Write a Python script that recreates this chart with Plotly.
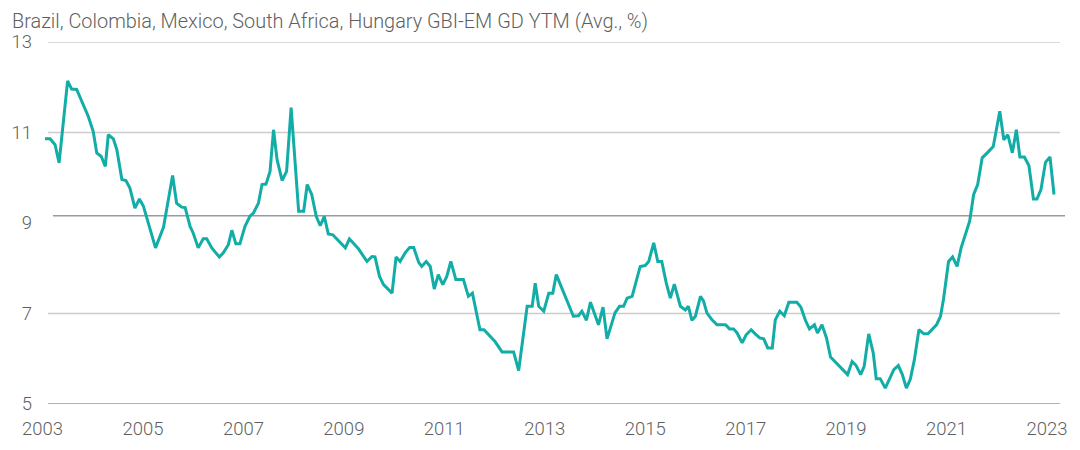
import plotly.graph_objects as go

# Decimal-year positions of the observations and GBI-EM GD YTM values (%)
years = [
    2003.05, 2003.15, 2003.25, 2003.33, 2003.50, 2003.58, 2003.68, 2003.91, 2004.01, 2004.08,
    2004.17, 2004.25, 2004.31, 2004.41, 2004.48, 2004.58, 2004.66, 2004.74, 2004.84, 2004.93,
    2005.01, 2005.25, 2005.41, 2005.59, 2005.67, 2005.77, 2005.84, 2005.94, 2006.00, 2006.10,
    2006.20, 2006.27, 2006.37, 2006.52, 2006.60, 2006.70, 2006.77, 2006.85, 2006.93, 2007.03,
    2007.13, 2007.20, 2007.30, 2007.37, 2007.45, 2007.53, 2007.60, 2007.67, 2007.77, 2007.86,
    2007.95, 2008.10, 2008.20, 2008.27, 2008.36, 2008.45, 2008.53, 2008.61, 2008.69, 2008.78,
    2009.03, 2009.11, 2009.29, 2009.46, 2009.56, 2009.62, 2009.71, 2009.79, 2009.96, 2010.04,
    2010.12, 2010.22, 2010.31, 2010.39, 2010.49, 2010.55, 2010.64, 2010.72, 2010.80, 2010.88,
    2010.97, 2011.05, 2011.13, 2011.23, 2011.38, 2011.48, 2011.56, 2011.65, 2011.71, 2011.79,
    2012.01, 2012.15, 2012.38, 2012.48, 2012.65, 2012.75, 2012.81, 2012.88, 2012.98, 2013.08,
    2013.16, 2013.23, 2013.31, 2013.41, 2013.57, 2013.67, 2013.74, 2013.83, 2013.91, 2014.07,
    2014.16, 2014.24, 2014.40, 2014.49, 2014.57, 2014.64, 2014.74, 2014.90, 2015.00, 2015.07,
    2015.17, 2015.25, 2015.33, 2015.42, 2015.50, 2015.58, 2015.70, 2015.80, 2015.86, 2015.93,
    2016.00, 2016.10, 2016.16, 2016.23, 2016.33, 2016.43, 2016.60, 2016.68, 2016.76, 2016.83,
    2016.93, 2017.01, 2017.11, 2017.19, 2017.28, 2017.36, 2017.44, 2017.53, 2017.59, 2017.68,
    2017.77, 2017.86, 2018.02, 2018.10, 2018.19, 2018.27, 2018.37, 2018.43, 2018.52, 2018.61,
    2018.69, 2019.03, 2019.12, 2019.20, 2019.29, 2019.36, 2019.45, 2019.54, 2019.60, 2019.68,
    2019.78, 2019.95, 2020.04, 2020.12, 2020.20, 2020.28, 2020.36, 2020.45, 2020.55, 2020.63,
    2020.80, 2020.88, 2020.94, 2021.04, 2021.12, 2021.21, 2021.29, 2021.46, 2021.54, 2021.62,
    2021.71, 2021.81, 2021.93, 2022.06, 2022.14, 2022.22, 2022.31, 2022.39, 2022.46, 2022.55,
    2022.64, 2022.73, 2022.80, 2022.88, 2022.97, 2023.06, 2023.14,
]
ytm = [
    10.86, 10.86, 10.73, 10.33, 12.14, 11.96, 11.95, 11.36, 11.02, 10.55,
    10.47, 10.25, 10.95, 10.86, 10.62, 9.96, 9.94, 9.77, 9.33, 9.53,
    9.37, 8.45, 8.91, 10.05, 9.44, 9.35, 9.34, 8.92, 8.78, 8.45,
    8.65, 8.65, 8.45, 8.25, 8.34, 8.52, 8.84, 8.54, 8.54, 8.92,
    9.15, 9.22, 9.44, 9.85, 9.86, 10.14, 11.06, 10.40, 9.94, 10.14,
    11.55, 9.26, 9.26, 9.85, 9.63, 9.15, 8.94, 9.15, 8.76, 8.74,
    8.45, 8.65, 8.43, 8.15, 8.26, 8.25, 7.82, 7.64, 7.45, 8.25,
    8.15, 8.34, 8.46, 8.46, 8.13, 8.04, 8.15, 8.04, 7.54, 7.86,
    7.64, 7.82, 8.15, 7.75, 7.75, 7.38, 7.45, 6.94, 6.64, 6.64,
    6.38, 6.15, 6.15, 5.74, 7.16, 7.16, 7.67, 7.16, 7.05, 7.45,
    7.45, 7.86, 7.64, 7.38, 6.94, 6.95, 7.05, 6.85, 7.25, 6.75,
    7.14, 6.44, 7.02, 7.16, 7.16, 7.34, 7.38, 8.04, 8.06, 8.15,
    8.56, 8.15, 8.15, 7.67, 7.34, 7.65, 7.16, 7.08, 7.16, 6.85,
    6.94, 7.38, 7.28, 7.01, 6.86, 6.75, 6.75, 6.66, 6.66, 6.57,
    6.35, 6.53, 6.64, 6.55, 6.46, 6.44, 6.24, 6.24, 6.86, 7.05,
    6.95, 7.25, 7.25, 7.14, 6.85, 6.66, 6.75, 6.57, 6.75, 6.46,
    6.04, 5.65, 5.94, 5.85, 5.65, 5.83, 6.55, 6.13, 5.56, 5.56,
    5.35, 5.76, 5.85, 5.65, 5.35, 5.55, 5.98, 6.64, 6.55, 6.55,
    6.75, 6.94, 7.32, 8.15, 8.25, 8.04, 8.45, 9.04, 9.63, 9.85,
    10.44, 10.55, 10.69, 11.47, 10.84, 10.95, 10.55, 11.06, 10.46, 10.46,
    10.27, 9.53, 9.53, 9.74, 10.34, 10.46, 9.63,
]

x_ticks = [2003, 2005, 2007, 2009, 2011, 2013, 2015, 2017, 2019, 2021, 2023]
x_tick_labels = ["2003", "2005", "2007", "2009", "2011", "2013", "2015", "2017", "2019", "2021", "2023"]
y_ticks = [5, 7, 9, 11, 13]
y_tick_labels = ["5", "7", "9", "11", "13"]
light_grid_levels = [7, 11, 13]
reference_level = 9.16

title_text = "Brazil, Colombia, Mexico, South Africa, Hungary GBI-EM GD YTM (Avg., %)"

TEAL = "#12ADA6"
TEXT = "#5f5f5f"
FONT = "Roboto"

fig = go.Figure()
fig.add_trace(go.Scatter(
    x=years, y=ytm, mode="lines",
    line=dict(color=TEAL, width=3),
    hoverinfo="skip", showlegend=False,
))

shapes = []
for lv in light_grid_levels:
    shapes.append(dict(type="line", xref="paper", yref="y", x0=0.0078, x1=1.0,
                       y0=lv, y1=lv, line=dict(color="#cccccc", width=1.5), layer="below"))
shapes.append(dict(type="line", xref="paper", yref="y", x0=0.0078, x1=1.0,
                   y0=5, y1=5, line=dict(color="#9a9a9a", width=1.5), layer="below"))
shapes.append(dict(type="line", xref="paper", yref="y", x0=0.0127, x1=1.0049,
                   y0=reference_level, y1=reference_level,
                   line=dict(color="#9a9a9a", width=1.5), layer="below"))

# the page body adds an 8px margin, so the figure is 8px smaller than the window
fig.update_layout(
    width=1072, height=442,
    margin=dict(l=32, r=20, t=34, b=46, autoexpand=False),
    paper_bgcolor="white", plot_bgcolor="white",
    font=dict(family=FONT, color=TEXT, size=18, weight=300),
    shapes=shapes,
    showlegend=False,
    annotations=[dict(
        text=title_text, xref="paper", yref="paper",
        x=-0.0295, y=1.056, xanchor="left", yanchor="middle",
        showarrow=False, font=dict(family=FONT, size=19.9, color=TEXT, weight=300),
    )],
)
fig.update_xaxes(
    range=[2002.95, 2023.259], tickvals=x_ticks, ticktext=x_tick_labels,
    showgrid=False, zeroline=False, showline=False, ticks="",
    tickfont=dict(family=FONT, size=18.5, color=TEXT, weight=300),
    ticklabelstandoff=11,
)
fig.update_yaxes(
    range=[5, 13], tickvals=y_ticks, ticktext=y_tick_labels,
    showgrid=False, zeroline=False, showline=False, ticks="",
    tickfont=dict(family=FONT, size=18.5, color=TEXT, weight=300),
    ticklabelstandoff=7,
)

fig.write_html("out.html")
